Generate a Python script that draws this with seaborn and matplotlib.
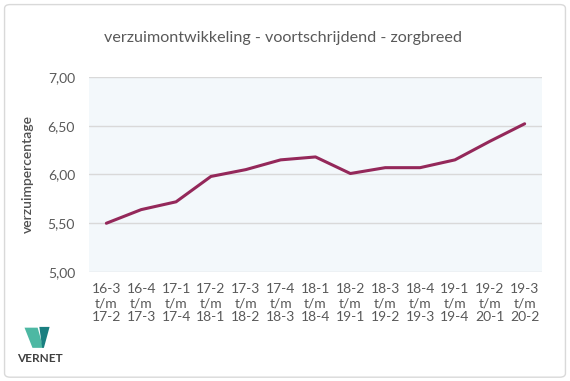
import matplotlib.pyplot as plt
import seaborn as sns
import pandas as pd
from matplotlib.patches import FancyBboxPatch, Polygon

# data
periods = ["16-3\nt/m\n17-2", "16-4\nt/m\n17-3", "17-1\nt/m\n17-4", "17-2\nt/m\n18-1",
           "17-3\nt/m\n18-2", "17-4\nt/m\n18-3", "18-1\nt/m\n18-4", "18-2\nt/m\n19-1",
           "18-3\nt/m\n19-2", "18-4\nt/m\n19-3", "19-1\nt/m\n19-4", "19-2\nt/m\n20-1",
           "19-3\nt/m\n20-2"]
verzuim = [5.50, 5.64, 5.72, 5.98, 6.05, 6.15, 6.18, 6.01, 6.07, 6.07, 6.15, 6.34, 6.52]
y_ticks = [5.0, 5.5, 6.0, 6.5, 7.0]

sns.set_style("white")
plt.rcParams['font.family'] = ['Lato', 'DejaVu Sans']

df = pd.DataFrame({"periode": periods, "verzuim": verzuim})

fig = plt.figure(figsize=(5.7, 3.81), dpi=100)
ax = fig.add_axes([0.156, 0.286, 0.795, 0.512])

sns.lineplot(data=df, x="periode", y="verzuim", ax=ax, color="#94285A", linewidth=2.2, sort=False)

ax.set_facecolor("#F3F8FB")
ax.set_xlim(-0.5, len(periods) - 0.5)
ax.set_ylim(5.0, 7.0)
ax.set_yticks(y_ticks)
ax.set_yticklabels([f"{v:.2f}".replace(".", ",") for v in y_ticks])
ax.grid(axis="y", color="#D9D9D9", linewidth=1)
ax.set_axisbelow(True)
for s in ax.spines.values():
    s.set_visible(False)
ax.tick_params(axis="both", length=0, labelsize=10, colors="#595959", pad=8)
ax.tick_params(axis="y", pad=10)
ax.set_xlabel("")
ax.set_ylabel("verzuimpercentage", fontsize=10, color="#505050", fontweight="semibold", labelpad=10)

fig.text(0.497, 0.90, "verzuimontwikkeling - voortschrijdend - zorgbreed",
         ha="center", va="center", fontsize=11.6, color="#595959")

# border
fig.patches.append(FancyBboxPatch((0.008, 0.01), 0.984, 0.978, boxstyle="round,pad=0,rounding_size=0.01",
                                  transform=fig.transFigure, fill=False, edgecolor="#D9D9D9", linewidth=1))

# logo
fig.patches.append(Polygon([(0.043, 0.140), (0.066, 0.140), (0.076, 0.087), (0.057, 0.087)],
                           closed=True, transform=fig.transFigure, facecolor="#4DB8A3", edgecolor="none"))
fig.patches.append(Polygon([(0.069, 0.142), (0.087, 0.142), (0.077, 0.087), (0.074, 0.087)],
                           closed=True, transform=fig.transFigure, facecolor="#1A7F80", edgecolor="none"))
fig.text(0.070, 0.060, "VERNET", ha="center", va="center", fontsize=8.5, fontweight="bold",
         color="#404040")

fig.savefig("out.png", dpi=100)
